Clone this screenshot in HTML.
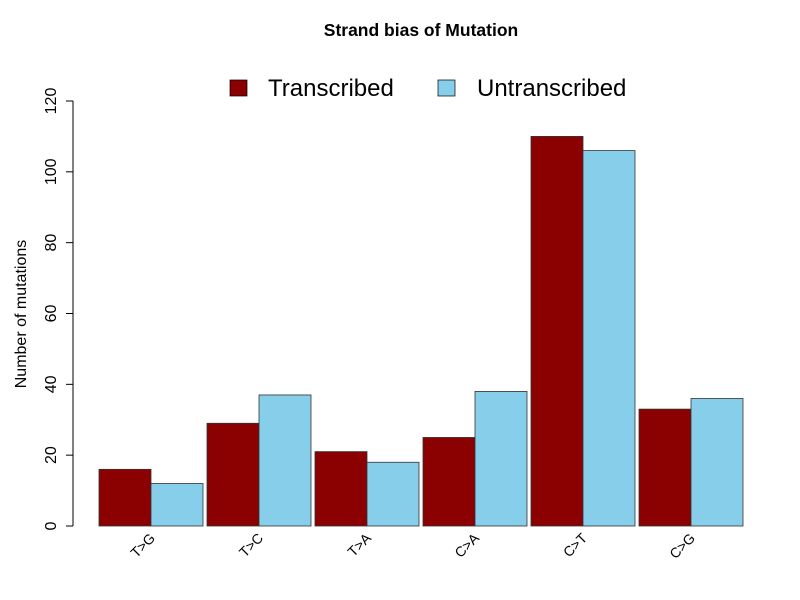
<!DOCTYPE html>
<html><head><meta charset="utf-8"><style>body{margin:0;background:#fff}svg{display:block;font-family:"Liberation Sans",sans-serif}</style></head>
<body>
<svg id="chart" width="800" height="600">
<rect width="800" height="600" fill="#fff"/>
<text x="421" y="36" text-anchor="middle" font-size="17.5" font-weight="bold">Strand bias of Mutation</text>
<g>
<rect x="230" y="80" width="17" height="16" fill="#8b0000" stroke="#000" stroke-width="0.7"/>
<text x="268" y="96" font-size="24">Transcribed</text>
<rect x="438" y="80" width="17" height="16" fill="#87ceeb" stroke="#000" stroke-width="0.7"/>
<text x="477" y="96" font-size="24">Untranscribed</text>
</g>
<text transform="translate(26,314) rotate(-90)" text-anchor="middle" font-size="16">Number of mutations</text>
<g id="yaxis"></g>
<g id="bars"></g>
<g id="xlabels"></g>
</svg>
<script>
const categories = ["T>G","T>C","T>A","C>A","C>T","C>G"];
const transcribed = [16,29,21,25,110,33];
const untranscribed = [12,37,18,38,106,36];
const yTicks = [0,20,40,60,80,100,120];
const NS="http://www.w3.org/2000/svg";
function y(v){return 526 - v*(425/120);}
function gx(i){return 99 + i*108;}
function mk(tag,attrs,parent){const e=document.createElementNS(NS,tag);for(const k in attrs)e.setAttribute(k,attrs[k]);parent.appendChild(e);return e;}
const ya=document.getElementById('yaxis');
const axl=mk('line',{x1:73,x2:73,y1:y(0),y2:y(120),stroke:'#000'},ya);


yTicks.forEach(t=>{
  const l=mk('line',{x1:66,x2:73,y1:y(t),y2:y(t),stroke:'#000'},ya);
  
  
  const tx=mk('text',{transform:`translate(56,${y(t)}) rotate(-90)`,'text-anchor':'middle','font-size':16},ya);
  tx.textContent=t;
  
  
});
const bg=document.getElementById('bars');
const xl=document.getElementById('xlabels');
categories.forEach((c,i)=>{
  const x0=gx(i);
  const r=mk('rect',{x:x0,y:y(transcribed[i]),width:52,height:y(0)-y(transcribed[i]),fill:'#8b0000',stroke:'#333','stroke-width':0.8},bg);
  
  
  const b=mk('rect',{x:x0+52,y:y(untranscribed[i]),width:52,height:y(0)-y(untranscribed[i]),fill:'#87ceeb',stroke:'#333','stroke-width':0.8},bg);
  
  
  const t=mk('text',{transform:`translate(${x0+57},539) rotate(-45)`,'text-anchor':'end','font-size':14},xl);
  t.textContent=c;
  
  
});
</script>
</body></html>
